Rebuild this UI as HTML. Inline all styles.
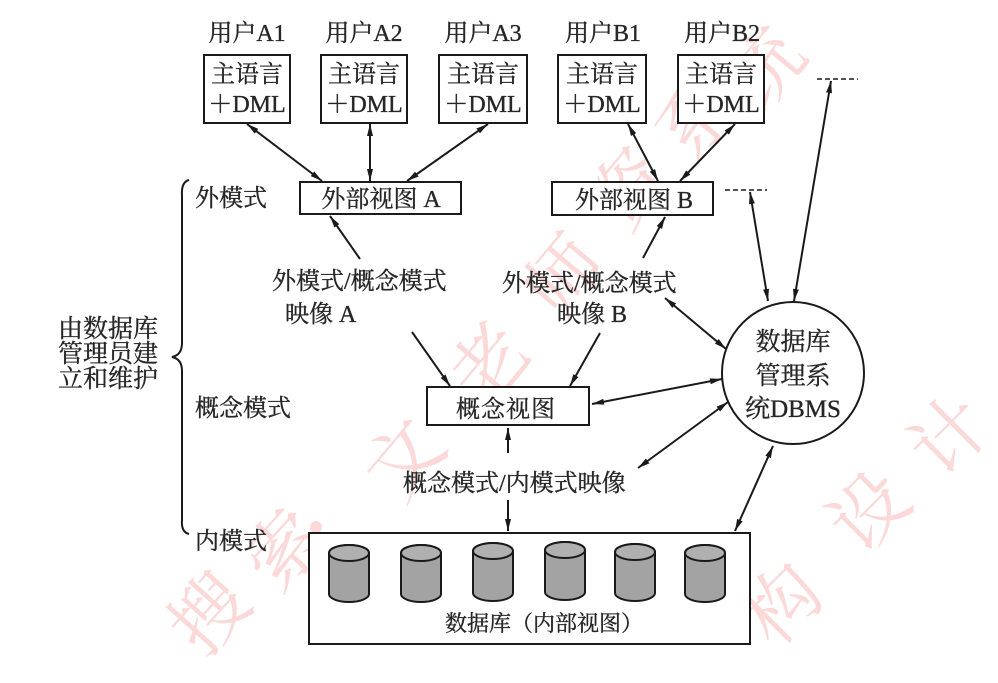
<!DOCTYPE html>
<html><head><meta charset="utf-8"><style>
html,body{margin:0;padding:0;background:#fff;width:998px;height:683px;overflow:hidden;}
svg{display:block;overflow:hidden;}
text{font-family:"Liberation Serif","Noto Serif CJK SC",serif;fill:#262626;stroke:#262626;stroke-width:0.35;}
.wm{font-family:"Noto Serif CJK SC","Liberation Serif",serif;fill:#fbd9d9;stroke:none;font-size:76px;}
</style></head><body>
<svg width="998" height="683" viewBox="0 0 998 683" xmlns="http://www.w3.org/2000/svg">
<defs>
<marker id="a" viewBox="0 0 12 6" refX="12" refY="3" markerWidth="12" markerHeight="6" orient="auto-start-reverse" markerUnits="userSpaceOnUse"><path d="M0,0 L12,3 L0,6 z" fill="#1a1a1a"/></marker>
</defs>
<rect width="998" height="683" fill="#fff"/>
<!-- watermark -->
<g>
<text class="wm" x="205" y="610" text-anchor="middle" dominant-baseline="central" transform="rotate(-48 205 610)">搜</text>
<text class="wm" x="280" y="545" text-anchor="middle" dominant-baseline="central" transform="rotate(-48 280 545)">索</text>
<circle cx="316" cy="527" r="6" fill="#fbd9d9"/>
<text class="wm" x="400" y="455" text-anchor="middle" dominant-baseline="central" transform="rotate(-50 400 455)">文</text>
<text class="wm" x="485" y="360" text-anchor="middle" dominant-baseline="central" transform="rotate(-50 485 360)">老</text>
<text class="wm" x="560" y="272" text-anchor="middle" dominant-baseline="central" transform="rotate(-50 560 272)">师</text>
<text class="wm" x="625" y="185" text-anchor="middle" dominant-baseline="central" transform="rotate(-50 625 185)">资</text>
<text class="wm" x="692" y="115" text-anchor="middle" dominant-baseline="central" transform="rotate(-50 692 115)">系</text>
<text class="wm" x="760" y="65" text-anchor="middle" dominant-baseline="central" transform="rotate(-50 760 65)">统</text>
<text class="wm" x="778" y="600" text-anchor="middle" dominant-baseline="central" transform="rotate(-45 778 600)">构</text>
<text class="wm" x="865" y="507" text-anchor="middle" dominant-baseline="central" transform="rotate(-45 865 507)">设</text>
<text class="wm" x="945" y="432" text-anchor="middle" dominant-baseline="central" transform="rotate(-45 945 432)">计</text>
</g>

<!-- user labels -->
<g font-size="24" text-anchor="middle">
<text x="247" y="41">用户A1</text>
<text x="364" y="41">用户A2</text>
<text x="483" y="41">用户A3</text>
<text x="603" y="41">用户B1</text>
<text x="722" y="41">用户B2</text>
</g>

<!-- user boxes -->
<g fill="#fff" stroke="#1a1a1a" stroke-width="2">
<rect x="204" y="55" width="86" height="68"/>
<rect x="321" y="55" width="86" height="68"/>
<rect x="439" y="55" width="88" height="68"/>
<rect x="558" y="55" width="88" height="68"/>
<rect x="678" y="55" width="86" height="68"/>
</g>
<g font-size="24" text-anchor="middle">
<text x="247" y="82">主语言</text><text x="247" y="112">＋DML</text>
<text x="364" y="82">主语言</text><text x="364" y="112">＋DML</text>
<text x="483" y="82">主语言</text><text x="483" y="112">＋DML</text>
<text x="602" y="82">主语言</text><text x="602" y="112">＋DML</text>
<text x="721" y="82">主语言</text><text x="721" y="112">＋DML</text>
</g>

<!-- views -->
<g fill="#fff" stroke="#1a1a1a" stroke-width="2">
<rect x="300" y="182" width="161" height="32"/>
<rect x="552" y="182" width="161" height="33"/>
<rect x="427" y="387" width="162" height="38"/>
<rect x="309" y="533" width="441" height="111"/>
</g>
<g font-size="24" text-anchor="middle">
<text x="381" y="207">外部视图 A</text>
<text x="634" y="208">外部视图 B</text>
<text x="506" y="417" letter-spacing="1">概念视图</text>
</g>

<!-- left labels -->
<g font-size="24">
<text x="195" y="206">外模式</text>
<text x="195" y="416">概念模式</text>
<text x="195" y="549">内模式</text>
</g>
<g font-size="25">
<text x="58" y="337">由数据库</text>
<text x="58" y="362">管理员建</text>
<text x="58" y="387">立和维护</text>
</g>
<path d="M189,180 Q181,182 182,196 L182,343 Q182,355 172,357 Q182,359 182,371 L182,520 Q181,532 189,534" fill="none" stroke="#1a1a1a" stroke-width="2"/>

<!-- mapping labels -->
<g font-size="24">
<text x="272" y="289">外模式/概念模式</text>
<text x="285" y="322">映像 A</text>
<text x="502" y="291">外模式/概念模式</text>
<text x="557" y="322">映像 B</text>
<text x="403" y="491">概念模式/内模式映像</text>
</g>

<!-- DBMS circle -->
<circle cx="793" cy="373" r="71" fill="#fff" stroke="#1a1a1a" stroke-width="2"/>
<g font-size="25" text-anchor="middle">
<text x="793" y="350">数据库</text>
<text x="793" y="384">管理系</text>
<text x="793" y="417">统DBMS</text>
</g>

<!-- dashes -->
<g stroke="#1a1a1a" stroke-width="1.5" stroke-dasharray="5,3">
<line x1="725" y1="190" x2="767" y2="190"/>
<line x1="817" y1="79" x2="858" y2="79"/>
</g>

<!-- connectors -->
<g stroke="#1a1a1a" stroke-width="2" fill="none">
<line x1="247" y1="124" x2="322" y2="181" marker-start="url(#a)" marker-end="url(#a)"/>
<line x1="370" y1="124" x2="370" y2="181" marker-start="url(#a)" marker-end="url(#a)"/>
<line x1="488" y1="124" x2="407" y2="181" marker-start="url(#a)" marker-end="url(#a)"/>
<line x1="628" y1="124" x2="658" y2="181" marker-start="url(#a)" marker-end="url(#a)"/>
<line x1="735" y1="124" x2="680" y2="181" marker-start="url(#a)" marker-end="url(#a)"/>
<line x1="360" y1="259" x2="330" y2="216" marker-end="url(#a)"/>
<line x1="412" y1="332" x2="450" y2="386" marker-end="url(#a)"/>
<line x1="643" y1="258" x2="665" y2="217" marker-end="url(#a)"/>
<line x1="600" y1="333" x2="570" y2="386" marker-end="url(#a)"/>
<line x1="665" y1="298" x2="726" y2="349" marker-start="url(#a)" marker-end="url(#a)"/>
<line x1="592" y1="404" x2="722" y2="379" marker-start="url(#a)" marker-end="url(#a)"/>
<line x1="638" y1="468" x2="728" y2="402" marker-start="url(#a)" marker-end="url(#a)"/>
<line x1="508" y1="453" x2="508" y2="428" marker-end="url(#a)"/>
<line x1="508" y1="500" x2="508" y2="531" marker-end="url(#a)"/>
<line x1="773" y1="446" x2="735" y2="531" marker-start="url(#a)" marker-end="url(#a)"/>
<line x1="768" y1="301" x2="750" y2="192" marker-start="url(#a)" marker-end="url(#a)"/>
<line x1="794" y1="301" x2="831" y2="81" marker-start="url(#a)" marker-end="url(#a)"/>
</g>

<!-- cylinders -->
<g stroke="#1a1a1a" stroke-width="2" fill="#a3a3a3">
<g transform="translate(349,0)"><path d="M-20,553 L-20,594 A20,8 0 0 0 20,594 L20,553 A20,8 0 0 0 -20,553 z"/><ellipse cx="0" cy="553" rx="20" ry="8" fill="#b0b0b0"/></g>
<g transform="translate(421,0)"><path d="M-20,553 L-20,594 A20,8 0 0 0 20,594 L20,553 A20,8 0 0 0 -20,553 z"/><ellipse cx="0" cy="553" rx="20" ry="8" fill="#b0b0b0"/></g>
<g transform="translate(493,0)"><path d="M-20,551 L-20,593 A20,8 0 0 0 20,593 L20,551 A20,8 0 0 0 -20,551 z"/><ellipse cx="0" cy="551" rx="20" ry="8" fill="#b0b0b0"/></g>
<g transform="translate(565,0)"><path d="M-20,550 L-20,592 A20,8 0 0 0 20,592 L20,550 A20,8 0 0 0 -20,550 z"/><ellipse cx="0" cy="550" rx="20" ry="8" fill="#b0b0b0"/></g>
<g transform="translate(635,0)"><path d="M-20,552 L-20,593 A20,8 0 0 0 20,593 L20,552 A20,8 0 0 0 -20,552 z"/><ellipse cx="0" cy="552" rx="20" ry="8" fill="#b0b0b0"/></g>
<g transform="translate(705,0)"><path d="M-20,553 L-20,594 A20,8 0 0 0 20,594 L20,553 A20,8 0 0 0 -20,553 z"/><ellipse cx="0" cy="553" rx="20" ry="8" fill="#b0b0b0"/></g>
</g>
<text x="544" y="631" font-size="22" text-anchor="middle">数据库（内部视图）</text>
</svg>
</body></html>
